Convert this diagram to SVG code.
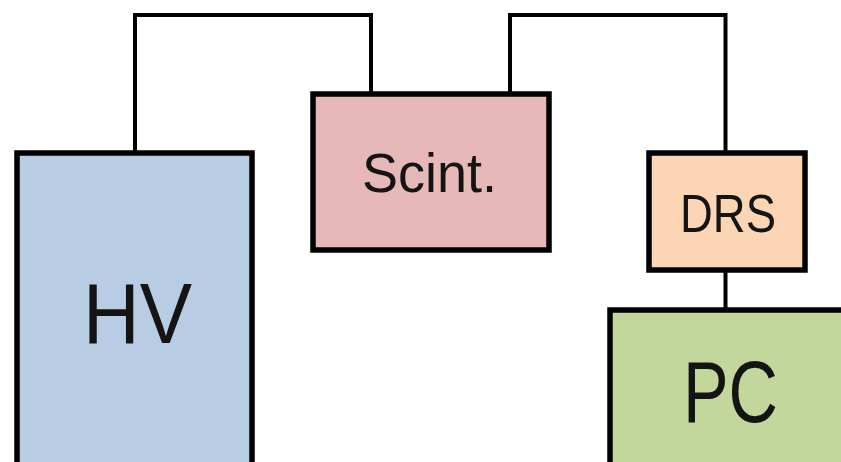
<svg xmlns="http://www.w3.org/2000/svg" width="841" height="462" viewBox="0 0 841 462">
<style>
.box{stroke:#000;stroke-width:5.5}
.wire{fill:none;stroke:#000;stroke-width:4}
.lbl{font-family:"Liberation Sans",Arial,sans-serif;fill:#141414;text-anchor:middle}
</style>
<rect width="841" height="462" fill="#fff"/>
<g id="connectors">
<path class="wire" d="M135,153 V15 H371 V94"/>
<path class="wire" d="M510,94 V15 H725.5 V153"/>
<path class="wire" d="M725.5,270 V310"/>
</g>
<g id="hv">
<rect class="box" x="17" y="153" width="235" height="320" fill="#b8cce4"/>
<text class="lbl" x="137.5" y="343" font-size="85" textLength="109" lengthAdjust="spacingAndGlyphs">HV</text>
</g>
<g id="scint">
<rect class="box" x="313" y="94" width="236" height="156" fill="#e6b9b8"/>
<text class="lbl" x="429.5" y="192" font-size="55" textLength="135" lengthAdjust="spacingAndGlyphs">Scint.</text>
</g>
<g id="drs">
<rect class="box" x="649" y="153" width="156" height="117" fill="#fcd5b5"/>
<text class="lbl" x="728" y="232" font-size="54" textLength="96" lengthAdjust="spacingAndGlyphs">DRS</text>
</g>
<g id="pc">
<rect class="box" x="610" y="310" width="260" height="170" fill="#c3d69b"/>
<text class="lbl" x="730.5" y="422" font-size="87" textLength="95" lengthAdjust="spacingAndGlyphs">PC</text>
</g>
</svg>
